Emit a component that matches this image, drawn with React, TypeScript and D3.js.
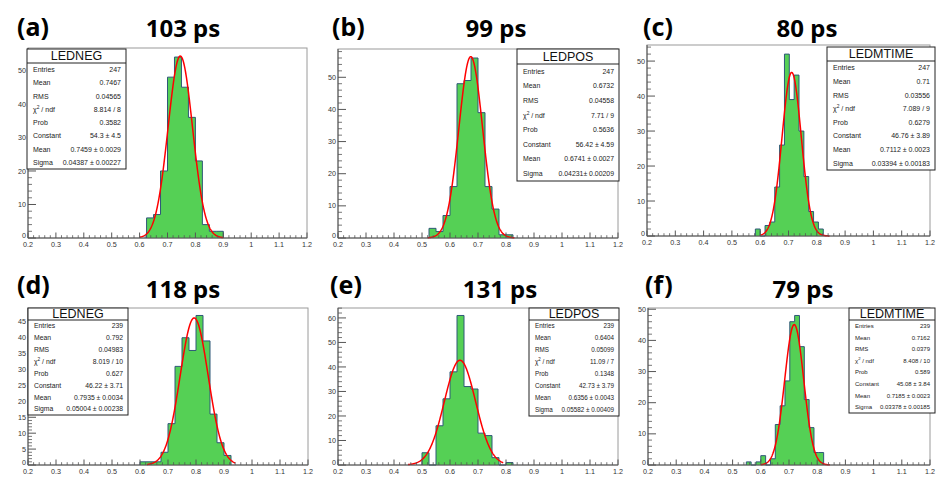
import React from "react";
import * as d3 from "d3";

// ---------- data ----------
const panelLetters = ["(a)", "(b)", "(c)", "(d)", "(e)", "(f)"];
const resolutionTitles = ["103 ps", "99 ps", "80 ps", "118 ps", "131 ps", "79 ps"];
const histNames = ["LEDNEG", "LEDPOS", "LEDMTIME", "LEDNEG", "LEDPOS", "LEDMTIME"];

const fineBin = 1.2 / 70;
const binWidths = [0.025, 0.025, fineBin, 0.025, 0.025, fineBin];
const binStarts = [0.625, 0.525, 34 * fineBin, 0.6, 0.5, 32 * fineBin];

const countsA = [6, 7, 20, 48, 54, 45, 36, 23, 4, 2, 2];
const countsB = [3, 2, 7, 16, 48, 49, 56, 39, 16, 9, 1, 1];
const countsC = [2, 0, 3, 4, 14, 26, 52, 39, 46, 30, 17, 7, 4, 2];
const countsD = [1, 1, 1, 4, 13, 31, 40, 36, 47, 39, 16, 7, 3];
const countsE = [5, 0, 16, 27, 38, 61, 32, 31, 13, 12, 3, 0, 1];
const countsF = [1, 0, 1, 3, 0, 2, 13, 19, 27, 46, 48, 38, 21, 12, 4, 4];
const allCounts = [countsA, countsB, countsC, countsD, countsE, countsF];

const fitConstants = [54.3, 56.42, 46.76, 46.22, 42.73, 45.08];
const fitMeans = [0.7459, 0.6741, 0.7112, 0.7935, 0.6356, 0.7185];
const fitSigmas = [0.04387, 0.04231, 0.03394, 0.05004, 0.05582, 0.03378];
const fitRanges = [
  [0.6, 0.9],
  [0.52, 0.83],
  [0.6, 0.845],
  [0.625, 0.94],
  [0.45, 0.79],
  [0.6, 0.845],
];

const statsLabels = ["Entries", "Mean", "RMS", "CHI", "Prob", "Constant", "Mean", "Sigma"];
const statsA = ["247", "0.7467", "0.04565", "8.814 / 8", "0.3582", "54.3 ± 4.5", "0.7459 ± 0.0029", "0.04387 ± 0.00227"];
const statsB = ["247", "0.6732", "0.04558", "7.71 / 9", "0.5636", "56.42 ± 4.59", "0.6741 ± 0.0027", "0.04231± 0.00209"];
const statsC = ["247", "0.71", "0.03556", "7.089 / 9", "0.6279", "46.76 ± 3.89", "0.7112 ± 0.0023", "0.03394 ± 0.00183"];
const statsD = ["239", "0.792", "0.04983", "8.019 / 10", "0.627", "46.22 ± 3.71", "0.7935 ± 0.0034", "0.05004 ± 0.00238"];
const statsE = ["239", "0.6404", "0.05099", "11.09 / 7", "0.1348", "42.73 ± 3.79", "0.6356 ± 0.0043", "0.05582 ± 0.00409"];
const statsF = ["239", "0.7162", "0.0379", "8.408 / 10", "0.589", "45.08 ± 3.84", "0.7185 ± 0.0023", "0.03378 ± 0.00185"];
const allStats = [statsA, statsB, statsC, statsD, statsE, statsF];

const yMaxes = [56.7, 58.8, 54.6, 49.35, 64.05, 50.4];
const yMajorSteps = [10, 10, 10, 5, 10, 10];
const yMinorSteps = [2, 2, 2, 1, 2, 2];
const xTickLabels = ["0.2", "0.3", "0.4", "0.5", "0.6", "0.7", "0.8", "0.9", "1", "1.1", "1.2"];

// ---------- layout ----------
const frames = [
  { l: 28, r: 307, t: 48, b: 238 },
  { l: 338, r: 618, t: 49, b: 238 },
  { l: 647, r: 930, t: 45, b: 236 },
  { l: 28, r: 308, t: 308, b: 465 },
  { l: 338, r: 618, t: 308, b: 465 },
  { l: 648, r: 930, t: 308, b: 465 },
];
const boxes = [
  { x0: 27, x1: 126, y0: 49, y1: 169, hb: 63, fs: 7 },
  { x0: 517, x1: 619, y0: 49, y1: 181, hb: 64, fs: 6.9 },
  { x0: 827, x1: 935, y0: 47, y1: 170, hb: 61, fs: 7 },
  { x0: 28, x1: 128, y0: 308, y1: 415, hb: 320, fs: 6.8 },
  { x0: 529, x1: 619, y0: 308, y1: 416, hb: 320, fs: 6.3 },
  { x0: 849, x1: 935, y0: 308, y1: 413, hb: 320, fs: 6 },
];
const letterPos = [
  { x: 17, y: 36 }, { x: 332, y: 36 }, { x: 643, y: 36 },
  { x: 17, y: 294 }, { x: 330, y: 294 }, { x: 645, y: 294 },
];
const titlePos = [
  { x: 183, y: 37 }, { x: 496, y: 37 }, { x: 807, y: 37 },
  { x: 183, y: 298 }, { x: 500, y: 298 }, { x: 803, y: 298 },
];

const rootFont = "'Liberation Sans', Arial, sans-serif";
const titleFont = "'Noto Sans', 'Open Sans', sans-serif";
const histFill = "#55d055";
const histLine = "#2f5878";

function Panel({ i }: { i: number }) {
  const f = frames[i];
  const x = d3.scaleLinear().domain([0.2, 1.2]).range([f.l, f.r]);
  const y = d3.scaleLinear().domain([0, yMaxes[i]]).range([f.b, f.t]);
  const counts = allCounts[i];
  const w = binWidths[i];
  const s0 = binStarts[i];

  const pts: [number, number][] = [[x(s0), y(0)]];
  counts.forEach((c, k) => {
    pts.push([x(s0 + k * w), y(c)]);
    pts.push([x(s0 + (k + 1) * w), y(c)]);
  });
  pts.push([x(s0 + counts.length * w), y(0)]);
  const histPath = d3.line()(pts) || "";

  const [lo, hi] = fitRanges[i];
  const C = fitConstants[i], m = fitMeans[i], s = fitSigmas[i];
  const gx = d3.range(0, 201).map((k) => lo + ((hi - lo) * k) / 200);
  const gaussPath =
    d3
      .line<number>()
      .x((v) => x(v))
      .y((v) => y(C * Math.exp(-0.5 * ((v - m) / s) ** 2)))(gx) || "";

  const xMajors = xTickLabels.map((t) => Number(t));
  const xMinors = d3.range(0, 51).map((k) => 0.2 + k * 0.02).filter((v) => Math.abs(((v - 0.2) / 0.1) - Math.round((v - 0.2) / 0.1)) > 1e-6);
  const yMajors = d3.range(0, yMaxes[i] + 1e-9, yMajorSteps[i]);
  const yMinors = d3.range(0, yMaxes[i] + 1e-9, yMinorSteps[i]).filter((v) => Math.abs(v / yMajorSteps[i] - Math.round(v / yMajorSteps[i])) > 1e-6);

  const bx = boxes[i];
  const stats = allStats[i];
  const rowH = (bx.y1 - bx.hb) / 8;
  const axisCol = "#555";

  return (
    <g>
      {/* titles */}
      <text x={letterPos[i].x} y={letterPos[i].y} fontFamily={titleFont} fontWeight={700} fontSize={25} fill="#000">
        {panelLetters[i]}
      </text>
      <text x={titlePos[i].x} y={titlePos[i].y} fontFamily={titleFont} fontWeight={700} fontSize={24} textAnchor="middle" fill="#000">
        {resolutionTitles[i]}
      </text>

      {/* frame */}
      <rect x={f.l} y={f.t} width={f.r - f.l} height={f.b - f.t} fill="#fff" stroke="#9a9a9a" strokeWidth={1} />

      {/* histogram */}
      <path d={histPath} fill={histFill} stroke={histLine} strokeWidth={1} />
      {/* fit */}
      <path d={gaussPath} fill="none" stroke="#ff0000" strokeWidth={1.5} />

      {/* axes */}
      <line x1={f.l} x2={f.r} y1={f.b} y2={f.b} stroke={axisCol} strokeWidth={1} />
      <line x1={f.l} x2={f.l} y1={f.b} y2={f.t} stroke={axisCol} strokeWidth={1} />
      {xMajors.map((v, k) => (
        <g key={"xm" + k}>
          <line x1={x(v)} x2={x(v)} y1={f.b} y2={f.b - 5.5} stroke={axisCol} strokeWidth={1} />
          <text x={x(v)} y={f.b + 8.5} fontSize={7.2} fontFamily={rootFont} textAnchor="middle" fill="#333">
            {xTickLabels[k]}
          </text>
        </g>
      ))}
      {xMinors.map((v, k) => (
        <line key={"xn" + k} x1={x(v)} x2={x(v)} y1={f.b} y2={f.b - 2.8} stroke={axisCol} strokeWidth={0.8} />
      ))}
      {yMajors.map((v, k) => (
        <g key={"ym" + k}>
          <line x1={f.l} x2={f.l + 8} y1={y(v)} y2={y(v)} stroke={axisCol} strokeWidth={1} />
          <text x={f.l - 2} y={v === 0 ? y(v) - 0.5 : y(v) + 2.6} fontSize={7.2} fontFamily={rootFont} textAnchor="end" fill="#333">
            {String(v)}
          </text>
        </g>
      ))}
      {yMinors.map((v, k) => (
        <line key={"yn" + k} x1={f.l} x2={f.l + 4} y1={y(v)} y2={y(v)} stroke={axisCol} strokeWidth={0.8} />
      ))}

      {/* stats box */}
      <rect x={bx.x0} y={bx.y0} width={bx.x1 - bx.x0} height={bx.y1 - bx.y0} fill="#fff" stroke="#222" strokeWidth={1} />
      <line x1={bx.x0} x2={bx.x1} y1={bx.hb} y2={bx.hb} stroke="#222" strokeWidth={1} />
      <text x={(bx.x0 + bx.x1) / 2} y={(bx.y0 + bx.hb) / 2 + 4.4} fontSize={12.5} fontFamily={rootFont} textAnchor="middle" fill="#111">
        {histNames[i]}
      </text>
      {statsLabels.map((lab, k) => {
        const by = bx.hb + rowH * (k + 0.5) + bx.fs * 0.35;
        return (
          <g key={"st" + k}>
            {lab === "CHI" ? (
              <text x={bx.x0 + 6} y={by} fontSize={bx.fs} fontFamily={rootFont} fill="#222">
                χ<tspan dy={-2.8} fontSize={bx.fs * 0.7}>2</tspan>
                <tspan dy={2.8}> / ndf</tspan>
              </text>
            ) : (
              <text x={bx.x0 + 6} y={by} fontSize={bx.fs} fontFamily={rootFont} fill="#222">
                {lab}
              </text>
            )}
            <text x={bx.x1 - 5} y={by} fontSize={bx.fs} fontFamily={rootFont} textAnchor="end" fill="#222">
              {stats[k]}
            </text>
          </g>
        );
      })}
    </g>
  );
}

export default function App() {
  return (
    <svg
      width={937}
      height={477}
      viewBox="0 0 937 477"
      style={{ position: "absolute", left: 0, top: 0, background: "#fff" }}
    >
      <rect x={0} y={0} width={937} height={477} fill="#fff" />
      {[0, 1, 2, 3, 4, 5].map((i) => (
        <Panel key={i} i={i} />
      ))}
    </svg>
  );
}
